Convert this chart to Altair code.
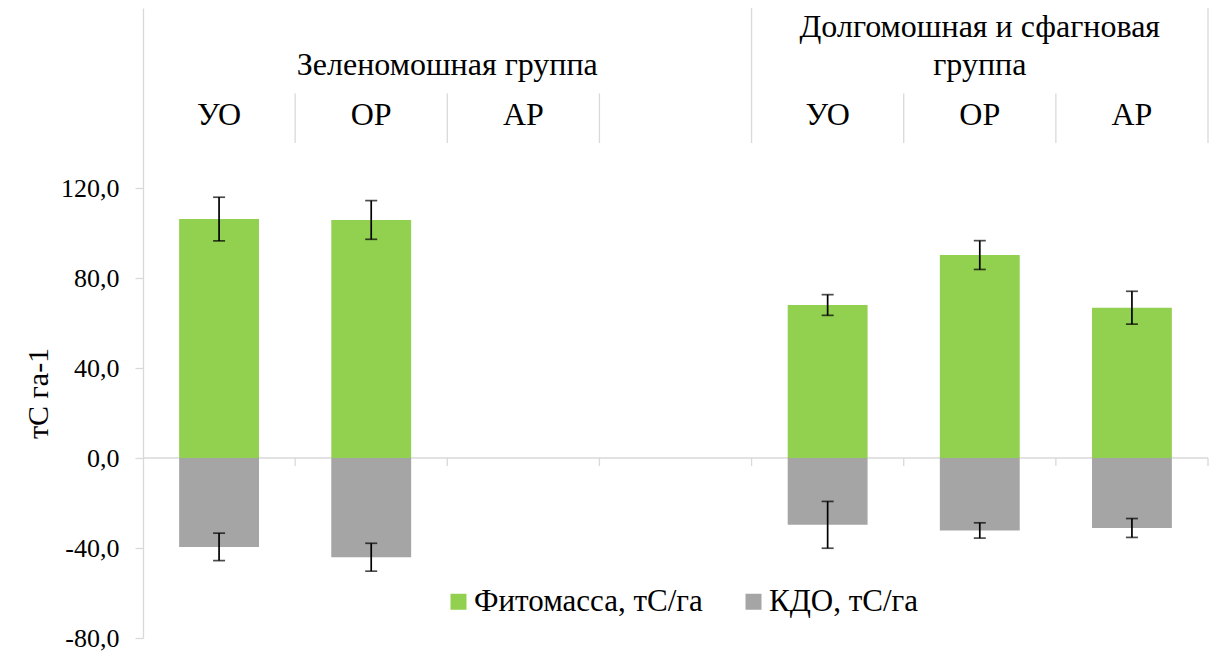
import altair as alt
import pandas as pd

# Category structure: two site groups, three plots each
group_lines = [["Зеленомошная группа"], ["Долгомошная и сфагновая", "группа"]]
sites = ["УО", "ОР", "АР"]

# Carbon stocks, tC/ha (order: group 1 УО, ОР, АР, group 2 УО, ОР, АР)
phytomass = [106.2, 105.8, None, 68.0, 90.2, 66.8]
phytomass_err = [9.7, 8.6, None, 4.6, 6.4, 7.3]
kdo = [-39.5, -44.1, None, -29.7, -32.2, -31.1]
kdo_err = [6.1, 6.2, None, 10.4, 3.4, 4.2]

series = ["Фитомасса, тС/га", "КДО, тС/га"]
colors = ["#92d050", "#a5a5a5"]
y_ticks = [-80, -40, 0, 40, 80, 120]

FONT = "Liberation Serif, DejaVu Serif, serif"
GRID = "#d9d9d9"
N_SLOTS = 7          # group 1 has 4 slots (last one empty), group 2 has 3
HALF_BAR = 0.2625    # half bar width in slot units
Y_MIN, Y_MAX = -80, 200
LABEL_BASE = 140     # value where the category label band begins

# ---- long-format tables built from the arrays above ----
rows = []
for i in range(len(phytomass)):
    g, s = divmod(i, 3)
    c = g * 4 + s + 0.5
    for name, vals, errs in ((series[0], phytomass, phytomass_err),
                             (series[1], kdo, kdo_err)):
        v, e = vals[i], errs[i]
        if v is None:
            continue
        rows.append({"series": name, "x": c - HALF_BAR, "x2": c + HALF_BAR,
                     "c": c, "value": v, "lo": v - e, "hi": v + e})
bars = pd.DataFrame(rows)
caps = pd.concat([bars.assign(yc=bars["lo"]), bars.assign(yc=bars["hi"])])

site_labels = pd.DataFrame([
    {"c": g * 4 + s + 0.5, "text": name}
    for g in range(2) for s, name in enumerate(sites)
])
group_centers = [2.0, 5.5]
group_baselines = {1: [170.2], 2: [187.1, 170.2]}
group_labels = pd.DataFrame([
    {"c": group_centers[g], "y": group_baselines[len(lines)][k], "text": line}
    for g, lines in enumerate(group_lines) for k, line in enumerate(lines)
])

short_div = pd.DataFrame({"b": [1, 2, 3, 5, 6], "y": LABEL_BASE, "y2": 162})
long_div = pd.DataFrame({"b": [4, 7], "y": LABEL_BASE, "y2": Y_MAX})
zero_ticks = pd.DataFrame({"b": list(range(1, N_SLOTS + 1)), "y": 0, "y2": -3.6})
zero_line = pd.DataFrame({"x": [0], "x2": [N_SLOTS], "y": [0]})

xs = alt.Scale(domain=[0, N_SLOTS], nice=False, zero=False)
ys = alt.Scale(domain=[Y_MIN, Y_MAX], nice=False, zero=False)

y_axis = alt.Axis(
    values=y_ticks,
    labelExpr="replace(replace(format(datum.value, '.1f'), '.', ','), '\u2212', '-')",
    labelFont=FONT, labelFontSize=26, labelColor="#000000", labelPadding=16,
    tickSize=8, tickColor=GRID, tickWidth=1.3,
    domainColor=GRID, domainWidth=1.3, grid=False,
    title="тС га-1", titleFont=FONT, titleFontSize=30, titleFontWeight="normal",
    titleColor="#000000", titleAngle=270, titleAlign="center",
    titleBaseline="alphabetic", titleX=-96, titleY=385,
)

base_y = alt.Y("y:Q", scale=ys, axis=y_axis)

dividers = alt.Chart(pd.concat([short_div, long_div])).mark_rule(
    color=GRID, strokeWidth=1.3
).encode(
    x=alt.X("b:Q", scale=xs, axis=None), y=base_y, y2="y2:Q"
)

zero = alt.Chart(zero_line).mark_rule(color=GRID, strokeWidth=1.3).encode(
    x=alt.X("x:Q", scale=xs, axis=None), x2="x2:Q", y=alt.Y("y:Q", scale=ys)
)

zero_t = alt.Chart(zero_ticks).mark_rule(color=GRID, strokeWidth=1.3).encode(
    x=alt.X("b:Q", scale=xs, axis=None), y=alt.Y("y:Q", scale=ys), y2="y2:Q"
)

bar_layer = alt.Chart(bars).mark_bar().encode(
    x=alt.X("x:Q", scale=xs, axis=None), x2="x2:Q",
    y=alt.Y("value:Q", scale=ys), y2=alt.datum(0),
    color=alt.Color(
        "series:N",
        scale=alt.Scale(domain=series, range=colors),
        legend=alt.Legend(
            title=None, orient="none", direction="horizontal",
            legendX=300, legendY=578, padding=0,
            symbolType="square", symbolSize=256, symbolStrokeWidth=0,
            labelFont=FONT, labelFontSize=31, labelColor="#000000",
            labelOffset=0, columnPadding=35, labelLimit=400,
        ),
    ),
)

err_rule = alt.Chart(bars).mark_rule(color="#000000", strokeWidth=1.7).encode(
    x=alt.X("c:Q", scale=xs, axis=None), y=alt.Y("lo:Q", scale=ys), y2="hi:Q"
)

err_caps = alt.Chart(caps).mark_tick(
    color="#000000", orient="horizontal", size=12, thickness=1.7
).encode(
    x=alt.X("c:Q", scale=xs, axis=None), y=alt.Y("yc:Q", scale=ys)
)

site_text = alt.Chart(site_labels).mark_text(
    font=FONT, fontSize=32, color="#000000", baseline="alphabetic", align="center"
).encode(
    x=alt.X("c:Q", scale=xs, axis=None), y=alt.datum(148.0), text="text:N"
)

group_text = alt.Chart(group_labels).mark_text(
    font=FONT, fontSize=32, color="#000000", baseline="alphabetic", align="center"
).encode(
    x=alt.X("c:Q", scale=xs, axis=None), y=alt.Y("y:Q", scale=ys), text="text:N"
)

chart = alt.layer(
    dividers, zero, zero_t, bar_layer, err_rule, err_caps, site_text, group_text
).properties(
    width=1065, height=630,
    autosize=alt.AutoSizeParams(type="none"),
    padding={"left": 143, "top": 8, "right": 9, "bottom": 14},
    background="#ffffff",
).configure_view(stroke=None)

chart.save("out.html", embed_options={"renderer": "svg", "actions": False})
